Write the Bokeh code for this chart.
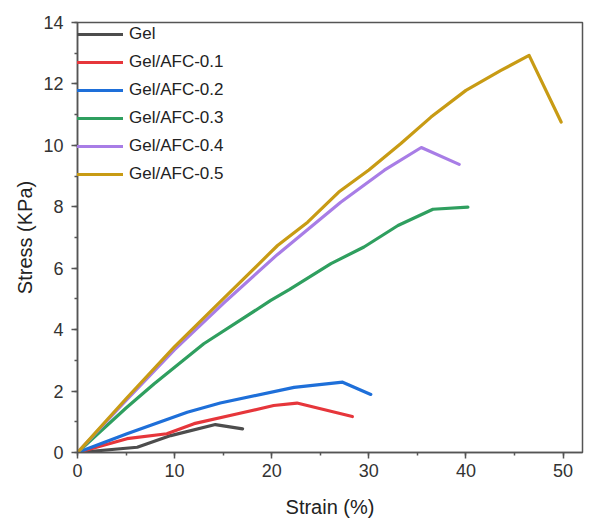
from bokeh.plotting import figure
from bokeh.models import SingleIntervalTicker, Range1d, Legend, LegendItem
from bokeh.embed import file_html
from bokeh.resources import INLINE

# Data (strain %, stress KPa)
gel_x = [0, 6.15, 9.6, 14.2, 17.0]
gel_y = [0, 0.17, 0.55, 0.91, 0.77]

afc01_x = [0, 5.1, 9.2, 12.0, 16.5, 20.2, 22.6, 28.3]
afc01_y = [0, 0.45, 0.61, 0.94, 1.26, 1.53, 1.61, 1.17]

afc02_x = [0, 5.1, 11.3, 14.7, 22.3, 27.3, 30.2]
afc02_y = [0, 0.61, 1.31, 1.61, 2.12, 2.29, 1.89]

afc03_x = [0, 5, 7.9, 13.0, 19.9, 21.8, 26.1, 29.5, 33.0, 36.6, 40.2]
afc03_y = [0, 1.45, 2.24, 3.54, 4.95, 5.3, 6.15, 6.69, 7.39, 7.92, 7.99]

afc04_x = [0, 5, 10, 15, 20.6, 27.1, 31.6, 35.4, 39.3]
afc04_y = [0, 1.7, 3.35, 4.85, 6.45, 8.15, 9.19, 9.93, 9.38]

afc05_x = [0, 5, 10, 15, 20.6, 23.7, 26.9, 30.0, 33.3, 36.4, 40.0, 43.6, 46.5, 49.8]
afc05_y = [0, 1.75, 3.45, 5.0, 6.74, 7.5, 8.48, 9.2, 10.06, 10.92, 11.79, 12.44, 12.93, 10.76]

labels = ["Gel", "Gel/AFC-0.1", "Gel/AFC-0.2", "Gel/AFC-0.3", "Gel/AFC-0.4", "Gel/AFC-0.5"]
colors = ["#4d4d4d", "#e6363b", "#1e6fd9", "#2f9f5f", "#a87de6", "#c89b14"]
series = [(gel_x, gel_y), (afc01_x, afc01_y), (afc02_x, afc02_y),
          (afc03_x, afc03_y), (afc04_x, afc04_y), (afc05_x, afc05_y)]

FONT = "Liberation Sans"

p = figure(width=593, height=520, output_backend="svg", toolbar_location=None,
           x_range=Range1d(0, 52), y_range=Range1d(0, 14),
           min_border_left=77, min_border_right=11, min_border_top=22, min_border_bottom=61)

p.xgrid.visible = False
p.ygrid.visible = False
p.outline_line_color = "#555555"
p.outline_line_width = 1.5
p.background_fill_color = "white"
p.border_fill_color = "white"

items = []
for (xs, ys), c, lab in zip(series, colors, labels):
    r = p.line(xs, ys, line_color=c, line_width=3.2, line_join="round", line_cap="round")
    items.append(LegendItem(label=lab, renderers=[r]))

p.xaxis.ticker = SingleIntervalTicker(interval=10, num_minor_ticks=2)
p.yaxis.ticker = SingleIntervalTicker(interval=2, num_minor_ticks=2)

for ax in (p.xaxis[0], p.yaxis[0]):
    ax.axis_line_color = "#555555"
    ax.axis_line_width = 1.5
    ax.major_tick_line_color = "#555555"
    ax.minor_tick_line_color = "#555555"
    ax.major_tick_line_width = 1.5
    ax.minor_tick_line_width = 1.5
    ax.major_tick_in = 0
    ax.major_tick_out = 6
    ax.minor_tick_in = 0
    ax.minor_tick_out = 3
    ax.major_label_text_font = FONT
    ax.major_label_text_font_size = "18px"
    ax.major_label_text_color = "#333333"
    ax.axis_label_text_font = FONT
    ax.axis_label_text_font_size = "20px"
    ax.axis_label_text_font_style = "normal"
    ax.axis_label_text_color = "#222222"

p.xaxis.axis_label = "Strain (%)"
p.yaxis.axis_label = "Stress (KPa)"
p.xaxis.axis_label_standoff = 16
p.yaxis.axis_label_standoff = 4
p.xaxis.major_label_standoff = 5
p.yaxis.major_label_standoff = 8

legend = Legend(items=items, location="top_left")
legend.border_line_color = None
legend.background_fill_alpha = 0
legend.margin = 0
legend.padding = 9
legend.glyph_width = 46
legend.glyph_height = 24
legend.label_height = 24
legend.spacing = 4
legend.label_standoff = 6
legend.label_text_font = FONT
legend.label_text_font_size = "17px"
legend.label_text_color = "#222222"
p.add_layout(legend)

open("out.html", "w").write(file_html(p, INLINE))
